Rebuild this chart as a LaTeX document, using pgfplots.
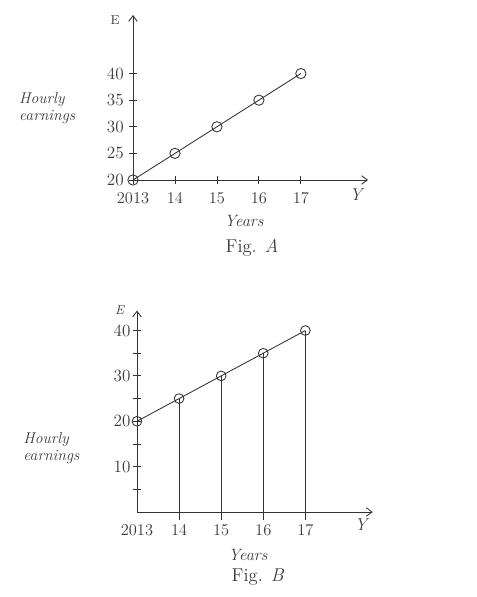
\documentclass[border=0pt]{standalone}
\usepackage{pgfplots}
\pgfplotsset{compat=1.18}
\usetikzlibrary{arrows.meta}
\definecolor{ink}{HTML}{333333}
\definecolor{txt}{HTML}{3A3A3A}

\pgfplotsset{
  sketch/.style={
    axis lines=left,
    axis line style={-{Straight Barb[length=4pt,width=6pt]}, line width=0.6pt, draw=ink},
    scale only axis,
    clip=false,
    tick style={ink, line width=0.6pt},
    tick align=center,
    major tick length=6pt,
    minor tick length=6pt,
    ticklabel style={text=txt, font=\fontsize{11.5}{13}\selectfont},
    xticklabel style={yshift=-2pt},
    xtick={2013,2014,2015,2016,2017},
    xticklabels={2013,14,15,16,17},
    xmin=2013, xmax=2018.6,
  },
}

\begin{document}
\begin{tikzpicture}
\path (0,0) rectangle (333.2pt,417.9pt);

% Fig. A
\begin{axis}[sketch,
  at={(93.1pt,291.9pt)}, anchor=south west,
  width=164.5pt, height=115.5pt,
  ymin=20, ymax=51,
  ytick={20,25,30,35,40},
  set layers=standard, mark layer=axis foreground,
]
\addplot[ink, line width=0.6pt, mark=o, mark size=3.6pt,
  mark options={fill=white, solid}] coordinates {
  (2013,20) (2014,25) (2015,30) (2016,35) (2017,40)
};
\end{axis}
\node[txt] at (80.5pt,403.9pt) {\small E};
\node[txt] at (249.9pt,281.4pt) {\large\textit{Y}};
\node[txt] at (170.8pt,263.2pt) {\fontsize{11.5}{13}\selectfont\textit{Years}};
\node[txt] at (176.4pt,244.3pt) {\fontsize{13}{15}\selectfont Fig. \textit{A}};
\node[txt, align=left, font=\fontsize{11}{12}\selectfont\itshape] at (33pt,342.3pt) {Hourly\\earnings};

% Fig. B
\begin{axis}[sketch,
  at={(95.9pt,59.5pt)}, anchor=south west,
  width=165pt, height=141pt,
  ymin=0, ymax=44.4,
  ytick={10,20,30,40},
  minor ytick={5,15,25,35},
  xtick style={draw=none},
  yticklabel style={xshift=2pt},
]
\addplot[ink, line width=0.6pt, ycomb, no marks] coordinates {
  (2014,25) (2015,30) (2016,35) (2017,40)
};
\addplot[ink, line width=0.6pt, ycomb, no marks] coordinates {
  (2014,-1.8) (2015,-1.8) (2016,-1.8) (2017,-1.8)
};
\addplot[ink, line width=0.6pt, mark=o, mark size=3.4pt,
  mark options={solid}] coordinates {
  (2013,20) (2014,25) (2015,30) (2016,35) (2017,40)
};
\end{axis}
\node[txt] at (84pt,200.9pt) {\small\textit{E}};
\node[txt] at (253.4pt,50.4pt) {\large\textit{Y}};
\node[txt] at (173.6pt,29.4pt) {\fontsize{11.5}{13}\selectfont\textit{Years}};
\node[txt] at (180.6pt,14pt) {\fontsize{13}{15}\selectfont Fig. \textit{B}};
\node[txt, align=left, font=\fontsize{11}{12}\selectfont\itshape] at (36pt,104.3pt) {Hourly\\earnings};
\end{tikzpicture}
\end{document}
